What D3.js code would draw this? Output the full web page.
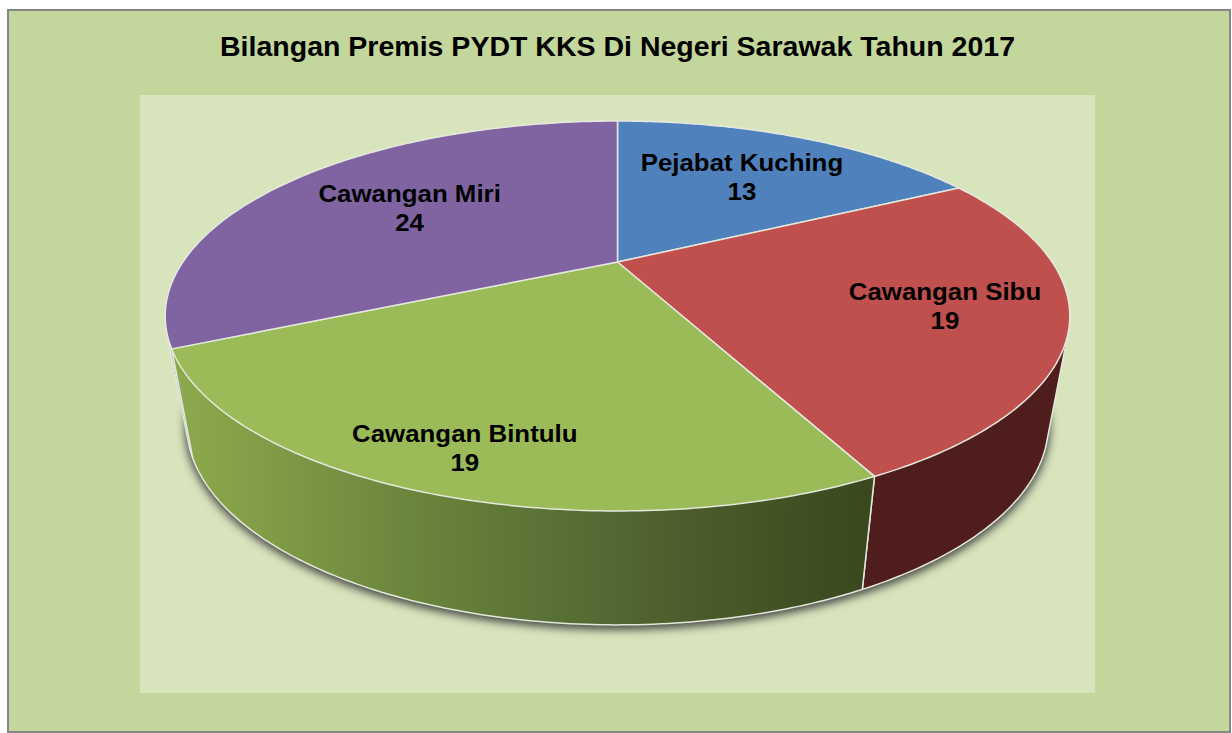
<!DOCTYPE html>
<html><head><meta charset="utf-8">
<style>html,body{margin:0;padding:0;background:#fff}svg{display:block}text{font-family:"Liberation Sans",Arial,sans-serif;font-weight:700;fill:#000}</style>
<script src="https://cdnjs.cloudflare.com/ajax/libs/d3/7.8.5/d3.min.js"></script>
</head><body><svg id="c" width="1232" height="733"></svg>
<script>
const chartTitle = "Bilangan Premis PYDT KKS Di Negeri Sarawak Tahun 2017";
const categories = ["Pejabat Kuching", "Cawangan Sibu", "Cawangan Bintulu", "Cawangan Miri"];
const values = [13, 19, 19, 24];
const topColors = ["#4f81bd", "#c0504d", "#9bbb59", "#8064a2"];
const wallColors = ["#2a4565", "#4f1d1c", "url(#greenWall)", "#8a72a8"];
const labelRadii = [0.636, 0.742, 0.852, 0.612];
const labelNudgeX = [0, 0, 4, -2];

const svg = d3.select("#c");
const cx = 617.5, k = 0.277;
const topPlane = { cy: 262, R: 434.6, A: 180 };
const basePlane = { cy: 369, R: 414, A: 185 };

const pie = d3.pie().sort(null).value(d => d).startAngle(0).endAngle(2 * Math.PI);
const arcs = pie(values);

const project = (a, r = 1, pl = topPlane) => {
  const u = r * Math.sin(a), v = -r * Math.cos(a), d = 1 - k * v;
  return [cx + pl.R * u / d, pl.cy + pl.A * v / d];
};
const sample = (a0, a1) => d3.range(0, 121).map(i => a0 + (a1 - a0) * i / 120);
const line = d3.line();

const defs = svg.append("defs");
const g = defs.append("linearGradient").attr("id", "greenWall")
  .attr("gradientUnits", "userSpaceOnUse").attr("x1", 180).attr("x2", 865).attr("y1", 0).attr("y2", 0);
[[0, "#8ca94c"], [0.15, "#7e9a45"], [0.32, "#6c873d"], [0.53, "#5a7236"], [0.75, "#4b5c2a"], [1, "#3a481e"]]
  .forEach(([o, c]) => g.append("stop").attr("offset", o).attr("stop-color", c));
defs.append("filter").attr("id", "soft").attr("x", "-10%").attr("y", "-10%").attr("width", "120%").attr("height", "120%")
  .append("feGaussianBlur").attr("stdDeviation", 4);

svg.append("rect").attr("x", 8).attr("y", 10).attr("width", 1222).attr("height", 722)
  .attr("fill", "#c3d69b").attr("stroke", "#868686").attr("stroke-width", 2);
svg.append("rect").attr("x", 140).attr("y", 95).attr("width", 955).attr("height", 598).attr("fill", "#d8e4bc");

svg.append("text").attr("x", 617.5).attr("y", 56).attr("text-anchor", "middle")
  .attr("font-size", 27).attr("textLength", 795).attr("lengthAdjust", "spacingAndGlyphs").text(chartTitle);

const wallHull = (i) => {
  const pts = sample(arcs[i].startAngle, arcs[i].endAngle);
  return d3.polygonHull(pts.map(a => project(a)).concat(pts.map(a => project(a, 1, basePlane))));
};

const allPts = sample(0, 2 * Math.PI);
svg.append("path").attr("d", line(allPts.map(a => project(a, 1, basePlane)).map(([x, y]) => [x, y + 3])) + "Z")
  .attr("fill", "#3c3c3c").attr("stroke", "#3c3c3c").attr("stroke-width", 4).attr("fill-opacity", .9).attr("stroke-opacity", .8)
  .attr("filter", "url(#soft)");

const wallOrder = [0, 3, 1, 2];
svg.append("g").selectAll("path").data(wallOrder).join("path")
  .attr("d", i => line(wallHull(i)) + "Z")
  .attr("fill", i => wallColors[i]).attr("stroke", "#e4e8dc").attr("stroke-width", 1.5).attr("stroke-linejoin", "round");

svg.append("g").selectAll("path").data(arcs).join("path")
  .attr("d", d => line([[cx, topPlane.cy]].concat(sample(d.startAngle, d.endAngle).map(a => project(a)))) + "Z")
  .attr("fill", (d, i) => topColors[i]).attr("stroke", "#e4e8dc").attr("stroke-width", 1.5).attr("stroke-linejoin", "round");

svg.append("g").selectAll("g").data(arcs).join("g").each(function (d, i) {
  const [x, y] = project((d.startAngle + d.endAngle) / 2, labelRadii[i]);
  const host = d3.select(this);
  [[categories[i], y - 6], [d.value, y + 23]].forEach(([txt, ty]) => {
    const t = host.append("text").attr("x", x + labelNudgeX[i]).attr("y", ty).attr("text-anchor", "middle")
      .attr("font-size", 24.5).text(txt);
    t.attr("textLength", t.node().getComputedTextLength() * 1.055).attr("lengthAdjust", "spacingAndGlyphs");
  });
});
</script></body></html>
